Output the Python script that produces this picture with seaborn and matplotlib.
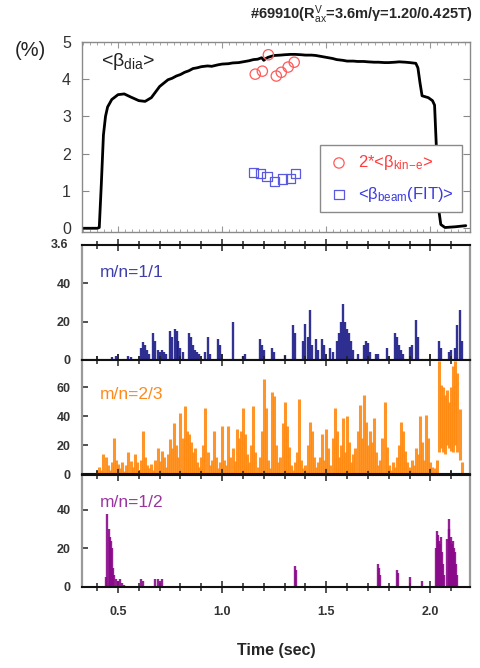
import numpy as np
import pandas as pd
import matplotlib
matplotlib.use("Agg")
import matplotlib.pyplot as plt
from matplotlib.ticker import MultipleLocator
import seaborn as sns

sns.set_style("ticks")
plt.rcParams['font.family'] = ['Liberation Sans', 'DejaVu Sans']
plt.rcParams['mathtext.fontset'] = 'custom'
plt.rcParams['mathtext.rm'] = 'Liberation Sans'
plt.rcParams['mathtext.it'] = 'Liberation Sans:italic'
plt.rcParams['mathtext.bf'] = 'Liberation Sans:bold'

# <beta_dia> trace (sec, %)
beta_t = [0.33, 0.40, 0.41, 0.42, 0.43, 0.44, 0.45, 0.47, 0.50, 0.53, 0.56, 0.60,
          0.63, 0.66, 0.70, 0.74, 0.76, 0.78, 0.80, 0.82, 0.84, 0.86, 0.88, 0.90,
          0.93, 0.95, 0.98, 1.00, 1.03, 1.05, 1.08, 1.10, 1.13, 1.15, 1.17, 1.19,
          1.20, 1.21, 1.22, 1.25, 1.28, 1.30, 1.33, 1.35, 1.38, 1.40, 1.43, 1.45,
          1.48, 1.50, 1.53, 1.55, 1.58, 1.60, 1.63, 1.65, 1.68, 1.70, 1.73, 1.75,
          1.78, 1.80, 1.83, 1.85, 1.88, 1.90, 1.93, 1.94, 1.95, 1.96, 1.99, 2.01,
          2.02, 2.03, 2.04, 2.05, 2.07, 2.12, 2.17]
beta_v = [0.0, 0.0, 0.02, 1.2, 2.5, 3.0, 3.25, 3.45, 3.58, 3.60, 3.52, 3.42,
          3.40, 3.50, 3.80, 3.98, 4.02, 4.08, 4.12, 4.18, 4.22, 4.28, 4.30, 4.33,
          4.35, 4.34, 4.38, 4.40, 4.41, 4.43, 4.44, 4.46, 4.49, 4.52, 4.53, 4.57,
          4.50, 4.55, 4.58, 4.63, 4.64, 4.65, 4.66, 4.66, 4.65, 4.64, 4.64, 4.63,
          4.60, 4.58, 4.55, 4.52, 4.50, 4.48, 4.48, 4.47, 4.47, 4.46, 4.45, 4.45,
          4.44, 4.44, 4.45, 4.46, 4.45, 4.44, 4.42, 4.30, 3.90, 3.55, 3.50, 3.42,
          3.30, 2.0, 0.5, 0.10, 0.02, 0.04, 0.07]

# 2*<beta_kin-e> and <beta_beam(FIT)>
kin_t = [1.159, 1.193, 1.222, 1.26, 1.284, 1.317, 1.346]
kin_v = [4.13, 4.21, 4.65, 4.08, 4.18, 4.32, 4.45]
beam_t = [1.149, 1.183, 1.216, 1.25, 1.289, 1.327, 1.351]
beam_v = [1.50, 1.47, 1.39, 1.26, 1.32, 1.34, 1.47]

# m/n=1/1 amplitude spikes
mn11_t = [0.47, 0.49, 0.55, 0.56, 0.61, 0.62, 0.63, 0.64, 0.65, 0.67, 0.68, 0.69,
          0.70, 0.71, 0.72, 0.73, 0.75, 0.76, 0.775, 0.785, 0.79, 0.80, 0.81,
          0.84, 0.85, 0.86, 0.87, 0.88, 0.89, 0.92, 0.93, 0.94, 0.98, 0.99, 1.05,
          1.10, 1.11, 1.18, 1.19, 1.20, 1.24, 1.25, 1.30, 1.34, 1.35, 1.39, 1.40,
          1.41, 1.42, 1.43, 1.45, 1.46, 1.48, 1.49, 1.52, 1.53, 1.55, 1.56, 1.57,
          1.58, 1.59, 1.60, 1.61, 1.62, 1.63, 1.65, 1.68, 1.69, 1.70, 1.71, 1.74,
          1.75, 1.79, 1.83, 1.84, 1.85, 1.86, 1.87, 1.90, 1.91, 1.93, 1.94, 2.04,
          2.05, 2.09, 2.10, 2.12, 2.13, 2.14, 2.15]
mn11_v = [1.5, 2, 2, 1.5, 6, 9.6, 8, 5, 3, 14, 10, 5,
          4, 5, 4, 3, 15, 12, 16, 15, 10, 6, 4,
          14, 12, 8, 5, 4, 3, 4, 12, 3, 11, 8, 20,
          2, 3, 11, 8, 5, 6, 4, 2.5, 18, 14, 10, 19,
          12, 26, 8, 11, 5, 11, 8, 6, 4, 10, 14, 20,
          29, 20, 16, 14, 10, 5, 3, 8, 10, 9, 4, 3,
          3, 6, 14, 12, 8, 5, 3, 7, 8, 21, 12, 10,
          6, 4, 5, 6, 18, 26, 10]

# m/n=2/3 amplitude, sampled every 10 ms from 0.40 s
mn23_t = np.round(np.arange(0.40, 2.155, 0.01), 2)
mn23_hi = [2, 5, 3, 14, 12, 6, 3, 8, 25, 10,          # 0.40-0.49
           7, 4, 8, 2, 6, 15, 9, 5, 14, 8,            # 0.50
           3, 10, 30, 12, 6, 4, 7, 3, 10, 18,         # 0.60
           9, 16, 12, 5, 14, 24, 18, 35, 20, 12,      # 0.70
           42, 25, 47, 30, 28, 22, 15, 18, 8, 5,      # 0.80
           12, 20, 46, 15, 6, 10, 30, 12, 4, 8,       # 0.90
           33, 10, 6, 33, 12, 18, 9, 31, 25, 30,      # 1.00
           46, 28, 14, 8, 20, 47, 15, 5, 12, 30,      # 1.10
           66, 46, 10, 4, 57, 54, 20, 8, 12, 35,      # 1.20
           50, 33, 19, 6, 3, 8, 15, 52, 10, 4,        # 1.30
           6, 20, 36, 30, 12, 5, 8, 12, 28, 10,       # 1.40
           31, 18, 6, 25, 46, 30, 12, 20, 39, 15,     # 1.50
           40, 22, 8, 14, 18, 30, 48, 25, 55, 36,     # 1.60
           20, 30, 22, 39, 15, 6, 10, 25, 50, 19,     # 1.70
           6, 3, 8, 5, 12, 20, 36, 30, 16, 8,         # 1.80
           5, 10, 6, 18, 14, 40, 22, 10, 41, 25,      # 1.90
           8, 5, 4, 10, 78, 62, 60, 55, 58, 50,       # 2.00
           60, 75, 78, 70, 45, 8]                     # 2.10-2.15
mn23_lo = [0] * 164 + [15, 18, 15, 14, 20, 18, 16, 15, 20, 15, 10, 0]

# m/n=1/2 amplitude spikes
mn12_t = [0.44, 0.447, 0.455, 0.46, 0.465, 0.47, 0.475, 0.48, 0.49, 0.50, 0.51,
          0.52, 0.53, 0.61, 0.62, 0.68, 0.69, 0.70, 0.71, 1.35, 1.355, 1.75,
          1.755, 1.76, 1.84, 1.845, 1.90, 1.96, 2.025, 2.03, 2.035, 2.04, 2.045,
          2.05, 2.055, 2.06, 2.065, 2.08, 2.087, 2.09, 2.095, 2.10, 2.105, 2.11,
          2.115, 2.12, 2.125, 2.13]
mn12_v = [5, 37.5, 30, 26, 24, 20, 10, 6, 4, 3, 4,
          2, 1, 4, 3, 4, 4, 3, 4, 11, 9, 12,
          10, 6, 9, 7, 5, 3, 20, 29, 27, 24, 22,
          26, 18, 12, 6, 25, 35, 30, 24, 26, 22, 24,
          20, 18, 12, 6]

fig = plt.figure(figsize=(4.8, 6.68), dpi=100)
left, width = 0.1708, 0.8083
ax0 = fig.add_axes([left, 0.6527, width, 0.2849])
ax1 = fig.add_axes([left, 0.4611, width, 0.1722])
ax2 = fig.add_axes([left, 0.2904, width, 0.1707])
ax3 = fig.add_axes([left, 0.1213, width, 0.1680])

xlim = (0.327, 2.19)

# top panel
beta_df = pd.DataFrame({'t': beta_t, 'v': beta_v})
sns.lineplot(data=beta_df, x='t', y='v', ax=ax0, color='black', lw=2.0, sort=False)
ax0.scatter(kin_t, kin_v, marker='o', s=55, facecolors='none', edgecolors='#ff5a5a',
            linewidths=0.9, label=r'2*<β$_{\rm kin\!-\!e}$>', zorder=3)
ax0.scatter(beam_t, beam_v, marker='s', s=45, facecolors='none', edgecolors='#5a5ae0',
            linewidths=0.9, label=r'<β$_{\rm beam}$(FIT)>', zorder=3)
ax0.set_xlim(*xlim)
ax0.set_ylim(-0.1, 5)
ax0.set_xlabel('')
ax0.set_ylabel('')
ax0.xaxis.set_major_locator(MultipleLocator(0.5))
ax0.xaxis.set_minor_locator(MultipleLocator(1 / 30))
ax0.yaxis.set_major_locator(MultipleLocator(1))
ax0.tick_params(axis='x', which='both', direction='in', top=True, bottom=True,
                labelbottom=False, color='#999999')
ax0.tick_params(axis='x', which='major', length=4)
ax0.tick_params(axis='x', which='minor', length=2.5)
ax0.tick_params(axis='y', direction='in', left=True, right=True, length=5,
                color='#888888', labelsize=11.5, labelcolor='#333333', pad=8)
for s in ax0.spines.values():
    s.set_color('#8a8a8a')
    s.set_linewidth(1.0)
ax0.text(0.05, 0.895, r'<β$_{\rm dia}$>', transform=ax0.transAxes, fontsize=14,
         color='#222222', va='center')
leg = ax0.legend(loc='upper left', bbox_to_anchor=(0.613, 0.457), frameon=True,
                 fancybox=False, edgecolor='#8a8a8a', fontsize=12,
                 labelcolor=['#ff3b3b', '#3b3bdd'], handletextpad=0.5,
                 handlelength=1.3, borderpad=0.5, labelspacing=0.75,
                 borderaxespad=0, framealpha=1)
leg.get_frame().set_linewidth(1.0)

# spike panels
panels = [
    (ax1, mn11_t, [0] * len(mn11_v), mn11_v, '#1c1c88', 'm/n=1/1', '#3f3fa8', (0, 60), [0, 20, 40], 0.76),
    (ax2, mn23_t, mn23_lo, mn23_hi, '#ff8a10', 'm/n=2/3', '#ff8a1a', (0, 79), [0, 20, 40, 60], 0.70),
    (ax3, mn12_t, [0] * len(mn12_v), mn12_v, '#8a0a8a', 'm/n=1/2', '#9a35a0', (0, 58), [0, 20, 40], 0.75),
]
for ax, t, lo, hi, col, lab, lcol, ylim, yt, ly in panels:
    ax.vlines(t, lo, hi, color=col, lw=2.2 if ax is ax2 else 1.7, alpha=0.9)
    ax.set_xlim(*xlim)
    ax.set_ylim(*ylim)
    ax.set_yticks(yt)
    ax.xaxis.set_major_locator(MultipleLocator(0.5))
    ax.xaxis.set_minor_locator(MultipleLocator(0.1))
    ax.tick_params(axis='x', which='both', direction='inout', top=True, bottom=True,
                   labelbottom=(ax is ax3), color='#222222', width=1.1,
                   labelsize=9, pad=9)
    ax.tick_params(axis='x', which='major', length=9)
    ax.tick_params(axis='x', which='minor', length=6)
    ax.tick_params(axis='y', direction='in', left=True, right=False, length=4,
                   width=1.1, labelsize=9, color='#222222', pad=8)
    for tl in ax.get_xticklabels() + ax.get_yticklabels():
        tl.set_fontweight('bold')
        tl.set_color('#333333')
    for side in ['left', 'right']:
        ax.spines[side].set_color('#9a9a9a')
        ax.spines[side].set_linewidth(1.6)
    for side in ['top', 'bottom']:
        ax.spines[side].set_color('#111111')
        ax.spines[side].set_linewidth(1.5)
    ax.text(0.047, ly, lab, transform=ax.transAxes, fontsize=12.5, color=lcol,
            va='center')

ax1.text(-0.035, 1.0, '3.6', transform=ax1.transAxes, ha='right', va='center',
         fontsize=9, fontweight='bold', color='#333333')
ax3.set_xlabel('Time (sec)', fontsize=11.5, fontweight='bold', labelpad=18)

fig.text(30 / 480, 1 - 50 / 668, '(%)', fontsize=14.5, ha='center', va='center',
         color='#222222')
fig.text(0.985, 1 - 15 / 668, r'#69910(R$_{\rm ax}^{\rm V}$=3.6m/γ=1.20/0.425T)',
         ha='right', va='center', fontsize=10.5, fontweight='bold')

fig.savefig('out.png', dpi=100)
